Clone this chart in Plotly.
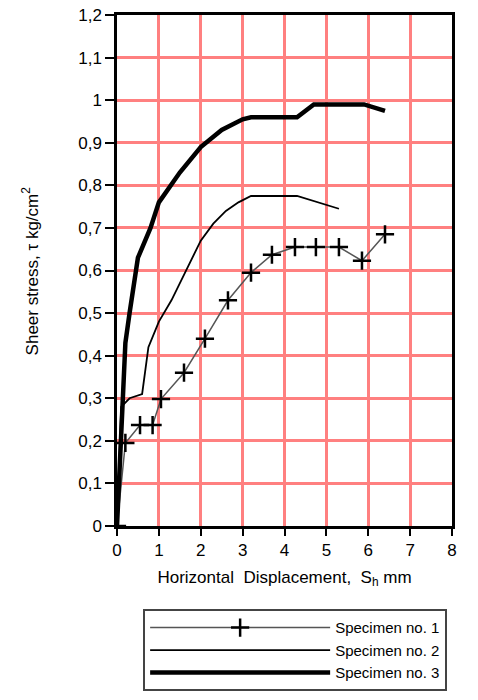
import plotly.graph_objects as go

# Specimen 1 (thin grey line with + markers)
s1_x = [0, 0.2, 0.55, 0.85, 1.05, 1.6, 2.1, 2.65, 3.2, 3.7, 4.25, 4.75, 5.3, 5.85, 6.4]
s1_y = [0, 0.195, 0.237, 0.237, 0.298, 0.36, 0.44, 0.53, 0.595, 0.637, 0.655, 0.655, 0.655, 0.623, 0.685]

# Specimen 2 (medium black line)
s2_x = [0, 0.1, 0.3, 0.6, 0.75, 1.0, 1.3, 1.6, 2.0, 2.3, 2.6, 2.9, 3.2, 4.3, 4.8, 5.3]
s2_y = [0, 0.28, 0.3, 0.31, 0.42, 0.48, 0.53, 0.59, 0.67, 0.71, 0.74, 0.76, 0.775, 0.775, 0.76, 0.745]

# Specimen 3 (thick black line)
s3_x = [0, 0.05, 0.1, 0.2, 0.3, 0.5, 0.8, 1.0, 1.5, 2.0, 2.5, 3.0, 3.2, 4.3, 4.7, 5.9, 6.4]
s3_y = [0, 0.1, 0.25, 0.43, 0.5, 0.63, 0.7, 0.76, 0.83, 0.89, 0.93, 0.955, 0.96, 0.96, 0.99, 0.99, 0.975]

y_ticks = [0, 0.1, 0.2, 0.3, 0.4, 0.5, 0.6, 0.7, 0.8, 0.9, 1.0, 1.1, 1.2]
y_tick_text = ["0", "0,1", "0,2", "0,3", "0,4", "0,5", "0,6", "0,7", "0,8", "0,9", "1", "1,1", "1,2"]
x_ticks = [0, 1, 2, 3, 4, 5, 6, 7, 8]

font_family = "Liberation Sans, Arial, sans-serif"

fig = go.Figure()
fig.add_trace(go.Scatter(
    x=s1_x, y=s1_y, mode="lines+markers", name="Specimen no. 1",
    line=dict(color="#555555", width=1.5),
    marker=dict(symbol="cross-thin", size=13, line=dict(color="black", width=2.5), color="black"),
))
fig.add_trace(go.Scatter(
    x=s2_x, y=s2_y, mode="lines", name="Specimen no. 2",
    line=dict(color="black", width=1.8),
))
fig.add_trace(go.Scatter(
    x=s3_x, y=s3_y, mode="lines", name="Specimen no. 3",
    line=dict(color="black", width=4.5),
))

fig.update_layout(
    width=478, height=700,
    margin=dict(l=117, r=26, t=15, b=174, autoexpand=False),
    paper_bgcolor="white", plot_bgcolor="white",
    font=dict(family=font_family, size=17, color="black"),
    showlegend=True,
    legend=dict(
        x=0.078, y=-0.163, xanchor="left", yanchor="top",
        bordercolor="#444444", borderwidth=2, bgcolor="white",
        font=dict(size=15, family=font_family),
        itemwidth=180, tracegroupgap=0,
    ),
    xaxis=dict(
        range=[0, 8], tickvals=x_ticks, ticktext=[str(v) for v in x_ticks],
        showgrid=True, gridcolor="#FF8080", gridwidth=2.5,
        showline=True, linecolor="black", linewidth=2.5, mirror=True,
        ticks="outside", ticklen=7, tickwidth=2, tickcolor="black",
        tickfont=dict(size=17), zeroline=False,
        title=dict(text="Horizontal  Displacement,  S<sub>h</sub> mm", font=dict(size=17), standoff=12),
    ),
    yaxis=dict(
        range=[0, 1.2], tickvals=y_ticks, ticktext=y_tick_text,
        showgrid=True, gridcolor="#FF8080", gridwidth=2.5,
        showline=True, linecolor="black", linewidth=2.5, mirror=True,
        ticks="outside", ticklen=9, tickwidth=2, tickcolor="black",
        tickfont=dict(size=17), zeroline=False,
    ),
    annotations=[dict(
        text="Sheer stress, τ kg/cm<sup>2</sup>",
        xref="paper", yref="paper", x=-0.26, y=0.5,
        xanchor="center", yanchor="middle", textangle=-90,
        showarrow=False, font=dict(size=17),
    )],
)

fig.write_html("out.html")
